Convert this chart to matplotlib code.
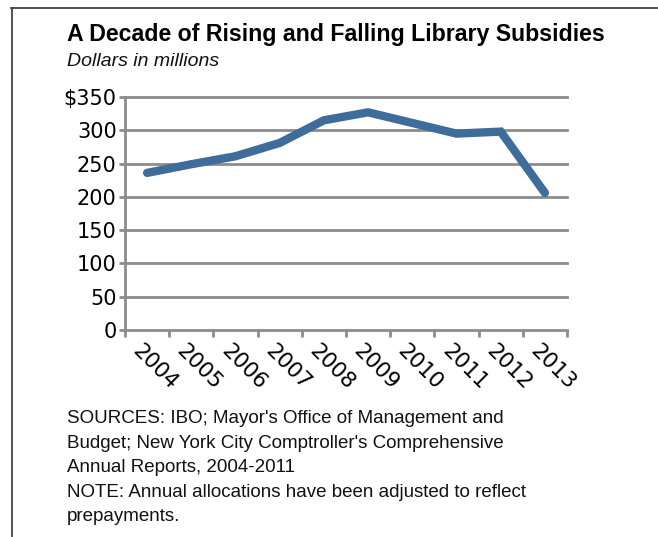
import matplotlib
matplotlib.use('Agg')
import matplotlib.pyplot as plt
from matplotlib.lines import Line2D
from matplotlib.transforms import ScaledTranslation
import numpy as np

# data (dollars in millions)
years = ['2004', '2005', '2006', '2007', '2008', '2009', '2010', '2011', '2012', '2013']
subsidies = [236, 249, 261, 281, 315, 327, 311, 295, 298, 206]
ytick_vals = [0, 50, 100, 150, 200, 250, 300, 350]
ytick_text = ['0', '50', '100', '150', '200', '250', '300', '$350']

title = 'A Decade of Rising and Falling Library Subsidies'
subtitle = 'Dollars in millions'
notes = ["SOURCES: IBO; Mayor's Office of Management and",
         "Budget; New York City Comptroller's Comprehensive",
         "Annual Reports, 2004-2011",
         "NOTE: Annual allocations have been adjusted to reflect",
         "prepayments."]

grid_col = '#8c8c8c'
line_col = '#3f6d9b'
narrow = ['Liberation Sans Narrow', 'Liberation Sans', 'DejaVu Sans']

fig = plt.figure(figsize=(6.58, 5.37), dpi=100)
ax = fig.add_axes([125/658, 1 - 330/537, (567-125)/658, (330-97)/537])

x = np.arange(len(years)) + 0.5
ax.plot(x, subsidies, color=line_col, lw=6, solid_capstyle='round',
        solid_joinstyle='miter', zorder=3)

ax.set_xlim(0, len(years))
ax.set_ylim(0, 350)

# gridlines
for v in ytick_vals[1:]:
    ax.axhline(v, color=grid_col, lw=2, zorder=1, clip_on=False)

for s in ['top', 'right']:
    ax.spines[s].set_visible(False)
for s in ['left', 'bottom']:
    ax.spines[s].set_color(grid_col)
    ax.spines[s].set_linewidth(2)

ax.set_yticks(ytick_vals)
ax.set_yticklabels(ytick_text, fontsize=15, family='DejaVu Sans')
ax.tick_params(axis='y', length=4, width=2, color=grid_col, pad=2)

ax.set_xticks(np.arange(len(years) + 1))
ax.set_xticklabels([])
ax.tick_params(axis='x', which='major', length=5, width=2, color=grid_col)
ax.set_xticks(x, minor=True)
ax.set_xticklabels(years, minor=True, rotation=-45, ha='left', va='top',
                   rotation_mode='anchor', fontsize=15.5, family='DejaVu Sans')
ax.tick_params(axis='x', which='minor', length=0, pad=8)
shift = ScaledTranslation(-3/72, 0, fig.dpi_scale_trans)
for lab in ax.get_xticklabels(minor=True):
    lab.set_transform(lab.get_transform() + shift)

# text
fig.text(67/658, 1 - 41/537, title, fontsize=16.7, fontweight='bold',
         family=narrow, ha='left', va='baseline', color='black')
fig.text(67/658, 1 - 66/537, subtitle, fontsize=14, style='italic',
         family=narrow, ha='left', va='baseline', color='#111111')
for i, t in enumerate(notes):
    fig.text(67/658, 1 - (423 + i*24.6)/537, t, fontsize=13.5, family=narrow,
             ha='left', va='baseline', color='#111111')

# frame lines top and left
fig.add_artist(Line2D([11/658, 1], [1 - 7.5/537, 1 - 7.5/537],
                      transform=fig.transFigure, color='#444444', lw=1.3))
fig.add_artist(Line2D([11.5/658, 11.5/658], [0, 1 - 7.5/537],
                      transform=fig.transFigure, color='#444444', lw=1.3))

fig.savefig('out.png', dpi=100)
